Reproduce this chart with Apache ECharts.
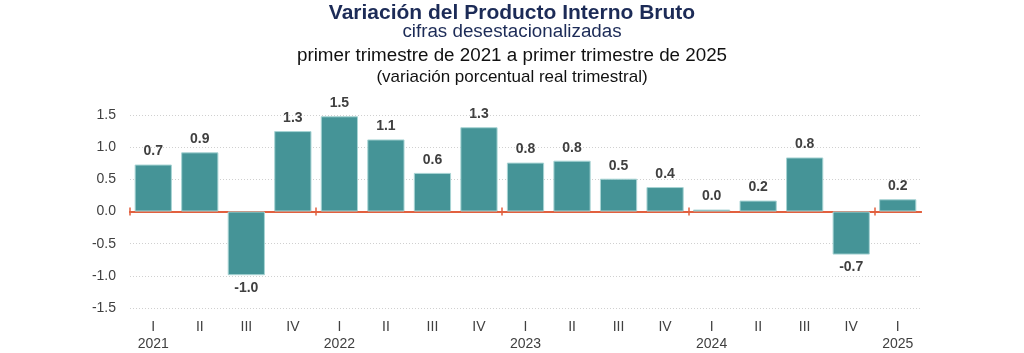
<!DOCTYPE html>
<html>
<head>
<meta charset="utf-8">
<script src="https://cdn.jsdelivr.net/npm/echarts@6/dist/echarts.min.js"></script>
<style>
  html, body { margin: 0; padding: 0; background: #fff; }
  #chart { width: 1024px; height: 353px; }
</style>
</head>
<body>
<div id="chart"></div>
<script>
// trimestres y años (el año solo va bajo el primer trimestre)
const quarters = ['I', 'II', 'III', 'IV', 'I', 'II', 'III', 'IV', 'I', 'II', 'III', 'IV', 'I', 'II', 'III', 'IV', 'I']
const years = ['2021', '', '', '', '2022', '', '', '', '2023', '', '', '', '2024', '', '', '', '2025']
// variación porcentual real trimestral (alto de barra)
const values = [0.73, 0.92, -0.99, 1.25, 1.48, 1.12, 0.60, 1.31, 0.76, 0.79, 0.51, 0.38, 0.03, 0.17, 0.84, -0.67, 0.19]
const labels = ['0.7', '0.9', '-1.0', '1.3', '1.5', '1.1', '0.6', '1.3', '0.8', '0.8', '0.5', '0.4', '0.0', '0.2', '0.8', '-0.7', '0.2']
// inicio de cada año, en número de trimestres
const yearStarts = [0, 4, 8, 12, 16]

const font = 'Liberation Sans, Arial, sans-serif'
const zeroColor = '#e2603f'

const chart = echarts.init(document.getElementById('chart'))

const seriesData = values.map((v, i) => ({
    value: v,
    label: { position: v < 0 ? 'bottom' : 'top', formatter: labels[i] },
}))

// eje auxiliar solo para las marcas de año sobre la línea del cero
const tickAxis = (inside, yIdx) => ({
    type: 'value',
    min: 0,
    max: quarters.length,
    position: 'bottom',
    splitLine: { show: false },
    axisLabel: { show: false },
    axisLine: { show: true, onZero: true, onZeroAxisIndex: yIdx, lineStyle: { color: zeroColor, width: 2 } },
    axisTick: { show: true, inside, length: 4, customValues: yearStarts, lineStyle: { color: zeroColor, width: 1.5 } },
})

const hiddenY = {
    type: 'value',
    min: -1.5,
    max: 1.5,
    interval: 0.5,
    show: false,
    splitLine: { show: false },
}

const option = {
    animation: false,
    graphic: [
        { type: 'text', left: 'center', top: 3, style: { text: 'Variación del Producto Interno Bruto', font: 'bold 21px ' + font, fill: '#1c2b57' } },
        { type: 'text', left: 'center', top: 22, style: { text: 'cifras desestacionalizadas', font: '18.8px ' + font, fill: '#1c2b57' } },
        { type: 'text', left: 'center', top: 46, style: { text: 'primer trimestre de 2021 a primer trimestre de 2025', font: '18.8px ' + font, fill: '#111' } },
        { type: 'text', left: 'center', top: 69, style: { text: '(variación porcentual real trimestral)', font: '17px ' + font, fill: '#111' } },
    ],
    grid: { left: 130, right: 103, top: 115, bottom: 45 },
    xAxis: [
        {
            type: 'category',
            data: quarters,
            position: 'bottom',
            axisLine: { show: false, onZero: false },
            axisTick: { show: false },
            axisLabel: {
                margin: 11,
                color: '#404040',
                fontFamily: font,
                fontSize: 14,
                lineHeight: 17,
                formatter(val, idx) {
                    return years[idx] ? val + '\n' + years[idx] : val
                },
            },
        },
        tickAxis(false, 1),
        tickAxis(true, 2),
    ],
    yAxis: [
        {
            type: 'value',
            min: -1.5,
            max: 1.5,
            interval: 0.5,
            axisLine: { show: false },
            axisTick: { show: false },
            axisLabel: {
                margin: 14,
                color: '#404040',
                fontFamily: font,
                fontSize: 14,
                formatter: (v) => v.toFixed(1),
            },
            splitLine: { lineStyle: { color: '#d0d0d0', type: [1, 2], width: 1 } },
        },
        hiddenY,
        hiddenY,
    ],
    series: [
        {
            type: 'bar',
            xAxisIndex: 0,
            yAxisIndex: 0,
            data: seriesData,
            barCategoryGap: '20%',
            itemStyle: { color: '#459497', borderColor: '#a8d4d4', borderWidth: 1 },
            label: {
                show: true,
                distance: 6,
                color: '#404040',
                fontFamily: font,
                fontWeight: 'bold',
                fontSize: 14,
            },
        },
    ],
}

chart.setOption(option)
</script>
</body>
</html>
